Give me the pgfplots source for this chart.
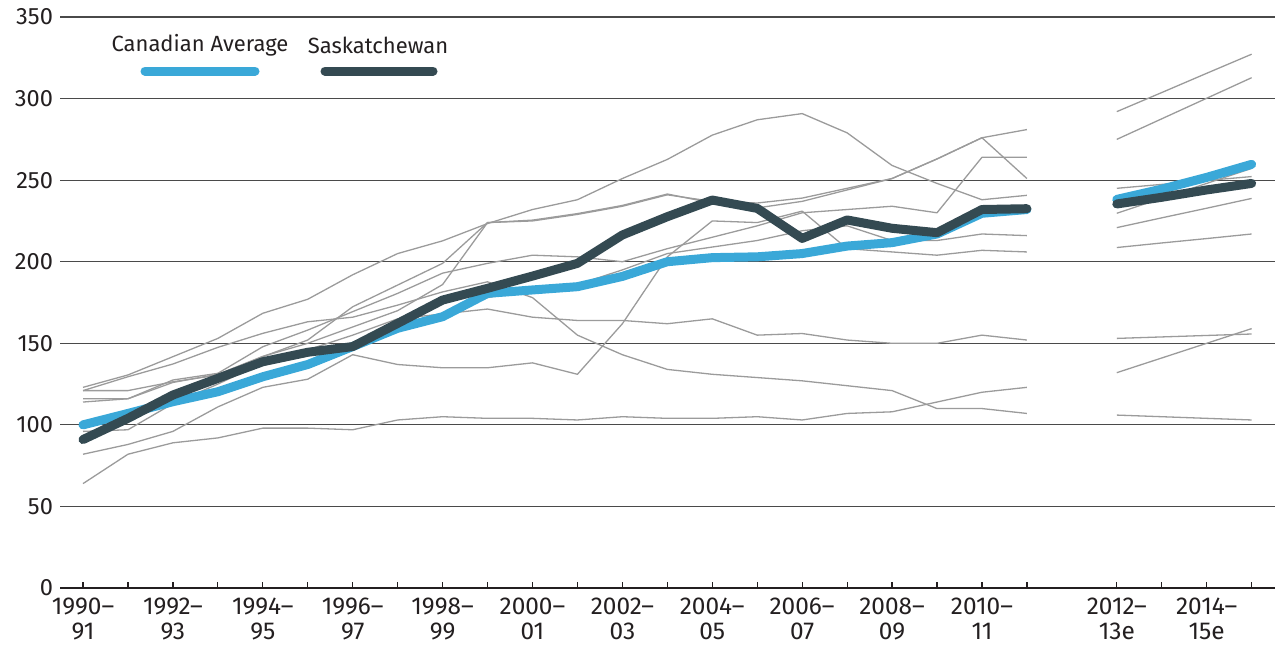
\documentclass[border=0pt]{standalone}
\usepackage{pgfplots}
\usepackage{pgfplotstable}
\pgfplotsset{compat=1.18}
\usepackage{fontspec}
\setmainfont{Fira Sans}
\definecolor{cblue}{HTML}{3AA8D8}
\definecolor{cdark}{HTML}{344A52}
\definecolor{cgray}{HTML}{9B9B9B}
\definecolor{cgrid}{HTML}{4A4A4A}
\definecolor{ctext}{HTML}{231F20}

\pgfplotstableread{
x  g1    g2    g3    g4    g5    g6   g7   g8   g9   can   sask
0  123   121   121   116   114   100  82   64   96   100   91
1  130.6 129.5 121   116   116   106  88   82   97   107   104
2  141.8 137.3 126.4 127.5 126   114  96   89   113  114.2 118.3
3  153   147.5 130.5 131.6 131   121  111  92   125  120.3 128.5
4  168.4 156.1 141.8 147.9 142   130  123  98   138  129.5 138.7
5  177   163.2 152   158.1 150   138  128  98   146  137   144.5
6  192   166   172.4 169.4 160   148  143  97   155  148   148
7  205   173.4 185.7 180.6 170   160  137  103  165  159.2 162.2
8  212.8 181.5 199   193   186   168  135  105  168  166.3 176.5
9  223.4 187.7 224   199   224   178  135  104  171  180.6 183.7
10 232   178   225   204   225.5 183  138  104  166  182.7 191.2
11 238   155   229   203   229.5 186  131  103  164  184.7 199
12 251   143   234   200   234.5 195  162  105  164  191   216.4
13 262.7 134   241   208   241.5 205  203  104  162  200   227.6
14 277.6 131   237   215   236   209  225  104  165  202.5 237.8
15 287   129   236   222   233   213  224  105  155  203   232.7
16 290.8 127   239   230   237   219  231  103  156  205   214.3
17 279   124   245   232   244   222  208  107  152  209.6 225.6
18 259   121   251   234   251   213  206  108  150  211.7 220.5
19 248   110   263   230   263   213  204  114  150  217   217.8
20 238   110   276   264   276   217  207  120  155  229.7 232
21 240.7 107   281   264   251   216  206  123  152   232   232.5
}\past

\pgfplotstableread{
x  f1    f2    f3    f4    f5    f6    f7    f8   f9   can   sask
23 292   275   245   229.7 220.9 208.7 153   132  106  238.2 235.4
24 303.7 287.6 247.4 238.9 226.9 211.5 153.9 141  105  244.5 239.5
25 315.5 300.2 249.8 248   232.8 214.2 154.8 150  104  251.7 244
26 327.2 312.8 252.2 257.2 238.8 217   155.7 159  103  259.7 248
}\future

\begin{document}
\begin{tikzpicture}
\begin{axis}[
  at={(0,0)}, anchor=south west,
  scale only axis, width=607.5pt, height=285.5pt,
  xmin=-0.512, xmax=26.52, ymin=0, ymax=350,
  axis lines*=left,
  y axis line style={draw=none},
  x axis line style={draw=ctext, line width=0.75pt},
  ytick={0,50,...,350},
  ymajorgrids,
  grid style={draw=cgrid, line width=0.6pt},
  ytick style={draw=none},
  xtick={0,...,21,23,24,25,26},
  xticklabels={{1990--\\91},{},{1992--\\93},{},{1994--\\95},{},{1996--\\97},{},{1998--\\99},{},{2000--\\01},{},{2002--\\03},{},{2004--\\05},{},{2006--\\07},{},{2008--\\09},{},{2010--\\11},{},{2012--\\13e},{},{2014--\\15e},{}},
  tick align=inside,
  major tick length=3pt,
  xtick style={draw=ctext, line width=0.6pt},
  /pgf/number format/assume math mode=true,
  xticklabel style={align=center, font=\fontsize{12.2}{12.5}\selectfont, text=ctext, yshift=-1.5pt},
  yticklabel style={font=\fontsize{11.8}{13}\selectfont, text=ctext},
  every axis plot/.append style={line join=round},
  clip=false,
]
\foreach \c in {g1,g2,g3,g4,g5,g6,g7,g8,g9}{
  \addplot[cgray, line width=0.65pt] table[x=x, y=\c] {\past};
}
\foreach \c in {f1,f2,f3,f4,f5,f6,f7,f8,f9}{
  \addplot[cgray, line width=0.65pt] table[x=x, y=\c] {\future};
}
\addplot[cblue, line width=4.5pt, line cap=round] table[x=x, y=can] {\past};
\addplot[cblue, line width=4.5pt, line cap=round] table[x=x, y=can] {\future};
\addplot[cdark, line width=4.5pt, line cap=round] table[x=x, y=sask] {\past};
\addplot[cdark, line width=4.5pt, line cap=round] table[x=x, y=sask] {\future};
\end{axis}
% legend
\node[text=ctext, font=\fontsize{11}{13}\selectfont] at (70pt,271.5pt) {Canadian Average};
\draw[cblue, line width=4.5pt, line cap=round] (42.5pt,258.5pt) -- (97.5pt,258.5pt);
\node[text=ctext, font=\fontsize{11}{13}\selectfont] at (159pt,271.5pt) {Saskatchewan};
\draw[cdark, line width=4.5pt, line cap=round] (132.5pt,258.5pt) -- (186.5pt,258.5pt);
\pgfresetboundingbox
\path (-30pt,-28.5pt) rectangle (609pt,294pt);
\end{tikzpicture}
\end{document}
